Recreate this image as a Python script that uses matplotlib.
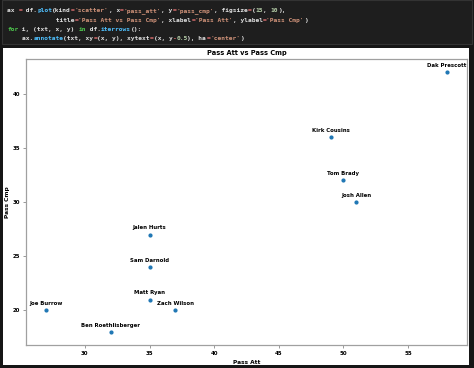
import matplotlib
matplotlib.use("Agg")
import matplotlib.pyplot as plt
from matplotlib.patches import Rectangle

players = ["Dak Prescott", "Kirk Cousins", "Tom Brady", "Josh Allen", "Jalen Hurts",
           "Sam Darnold", "Matt Ryan", "Zach Wilson", "Joe Burrow", "Ben Roethlisberger"]
pass_att = [58, 49, 50, 51, 35, 35, 35, 37, 27, 32]
pass_cmp = [42, 36, 32, 30, 27, 24, 21, 20, 20, 18]
x_ticks = [30, 35, 40, 45, 50, 55]
y_ticks = [20, 25, 30, 35, 40]

W, H = 474, 368
fig = plt.figure(figsize=(W / 100, H / 100), dpi=100)
fig.patch.set_facecolor("#161616")

def fx(px):
    return px / W

def fy(py):
    return 1 - py / H

# code cell background
fig.patches.append(Rectangle((fx(2), fy(44)), fx(470), 44 / H, transform=fig.transFigure,
                             facecolor="#1e1e1e", edgecolor="#333333", lw=0.8, zorder=-2))
# white output panel
fig.patches.append(Rectangle((fx(3), fy(365)), fx(466), (365 - 48) / H, transform=fig.transFigure,
                             facecolor="white", edgecolor="none", zorder=-2))

# code text with simple syntax colours
WHITE = "#e0e0e0"
OP = "#d16969"
STR = "#ce9178"
NUM = "#b5cea8"
FN = "#4fc1ff"
KW = "#4ec94e"
code_lines = [
    [("ax ", WHITE), ("=", OP), (" df.", WHITE), ("plot", FN), ("(kind", WHITE), ("=", OP),
     ("'scatter'", STR), (", x", WHITE), ("=", OP), ("'pass_att'", STR), (", y", WHITE), ("=", OP),
     ("'pass_cmp'", STR), (", figsize", WHITE), ("=", OP), ("(", WHITE), ("15", NUM), (", ", WHITE),
     ("10", NUM), ("),", WHITE)],
    [("             title", WHITE), ("=", OP), ("'Pass Att vs Pass Cmp'", STR), (", xlabel", WHITE),
     ("=", OP), ("'Pass Att'", STR), (", ylabel", WHITE), ("=", OP), ("'Pass Cmp'", STR), (")", WHITE)],
    [("for", KW), (" i, (txt, x, y) ", WHITE), ("in", KW), (" df.", WHITE), ("iterrows", FN), ("():", WHITE)],
    [("    ax.", WHITE), ("annotate", FN), ("(txt, xy", WHITE), ("=", OP), ("(x, y), xytext", WHITE),
     ("=", OP), ("(x, y", WHITE), ("-", OP), ("0.5", NUM), ("), ha", WHITE), ("=", OP),
     ("'center'", STR), (")", WHITE)],
]
char_w = 3.76
line_y = [12, 22, 31, 40]
for ly, segs in zip(line_y, code_lines):
    col = 0
    for txt, c in segs:
        fig.text(fx(7 + col * char_w), fy(ly), txt, color=c, family="DejaVu Sans Mono",
                 fontsize=4.5, va="baseline", ha="left", fontweight="bold")
        col += len(txt)

ax = fig.add_axes([fx(26), fy(345), fx(467 - 26), (345 - 59) / H])
ax.scatter(pass_att, pass_cmp, s=4, color="#1f77b4", zorder=3)
for name, x, y in zip(players, pass_att, pass_cmp):
    ax.annotate(name, xy=(x, y), xytext=(x, y + 0.5), ha="center",
                fontsize=3.9, fontweight="bold")
ax.set_xticks(x_ticks)
ax.set_yticks(y_ticks)
ax.set_xlim(25.45, 59.55)
ax.set_ylim(16.8, 43.2)
ax.tick_params(labelsize=3.9, length=2, width=0.6, color="#888888", pad=2)
for lab in ax.get_xticklabels() + ax.get_yticklabels():
    lab.set_fontweight("bold")
for sp in ax.spines.values():
    sp.set_color("#a0a0a0")
    sp.set_linewidth(0.9)
ax.set_title("Pass Att vs Pass Cmp", fontsize=4.8, fontweight="bold", pad=3)
ax.set_xlabel("Pass Att", fontsize=4.2, fontweight="bold", labelpad=3)
ax.set_ylabel("Pass Cmp", fontsize=4.2, fontweight="bold", labelpad=2)

fig.savefig("out.png", dpi=100, facecolor=fig.get_facecolor())
